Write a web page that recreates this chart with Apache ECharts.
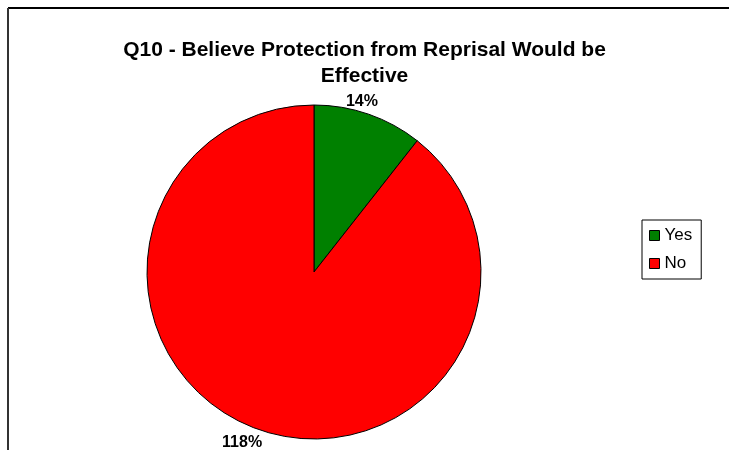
<!DOCTYPE html>
<html>
<head>
<meta charset="utf-8">
<script src="https://cdn.jsdelivr.net/npm/echarts@6/dist/echarts.min.js"></script>
<style>
  html, body { margin: 0; padding: 0; background: #ffffff; }
  #chart { width: 729px; height: 450px; }
</style>
</head>
<body>
<div id="chart"></div>
<script>
// Survey answers for Q10
const categories = ['Yes', 'No'];
const values = [14, 118];
const sliceColors = ['#008000', '#FF0000'];
const chartTitle = 'Q10 - Believe Protection from Reprisal Would be\nEffective';

// Small nudges applied to the outside value labels
const labelNudges = [[-31, -3], [11, 3]];

const chart = echarts.init(document.getElementById('chart'), null, { renderer: 'canvas' });

const pieData = categories.map((name, i) => ({
  name: name,
  value: values[i],
  itemStyle: { color: sliceColors[i] }
}));

chart.setOption({
  animation: false,
  backgroundColor: '#ffffff',
  color: sliceColors,
  title: {
    text: chartTitle,
    left: 'center',
    top: 32,
    textStyle: {
      fontFamily: 'Liberation Sans',
      fontWeight: 'bold',
      fontSize: 21,
      lineHeight: 26,
      color: '#000000'
    }
  },
  legend: {
    orient: 'vertical',
    left: 642,
    top: 220,
    padding: [7, 9, 7, 7],
    itemGap: 11,
    itemWidth: 10,
    itemHeight: 10,
    icon: 'rect',
    borderColor: '#000000',
    borderWidth: 1,
    itemStyle: { borderColor: '#000000', borderWidth: 1 },
    textStyle: { fontFamily: 'Liberation Sans', fontSize: 17, color: '#000000' },
    data: categories
  },
  graphic: [
    { type: 'line', shape: { x1: 8, y1: 8, x2: 740, y2: 8 }, style: { stroke: '#000000', lineWidth: 2 } },
    { type: 'line', shape: { x1: 8, y1: 8, x2: 8, y2: 460 }, style: { stroke: '#333333', lineWidth: 2 } }
  ],
  series: [{
    type: 'pie',
    center: [314, 272],
    radius: 167,
    startAngle: 90,
    clockwise: true,
    avoidLabelOverlap: false,
    itemStyle: { borderColor: '#000000', borderWidth: 1 },
    emphasis: { disabled: true },
    label: {
      show: true,
      position: 'outside',
      formatter: '{c}%',
      fontFamily: 'Liberation Sans',
      fontWeight: 'bold',
      fontSize: 16,
      color: '#000000'
    },
    labelLine: { show: false, length: 10, length2: 0 },
    labelLayout: function (params) {
      const n = labelNudges[params.dataIndex] || [0, 0];
      return { dx: n[0], dy: n[1] };
    },
    data: pieData
  }]
});
</script>
</body>
</html>
